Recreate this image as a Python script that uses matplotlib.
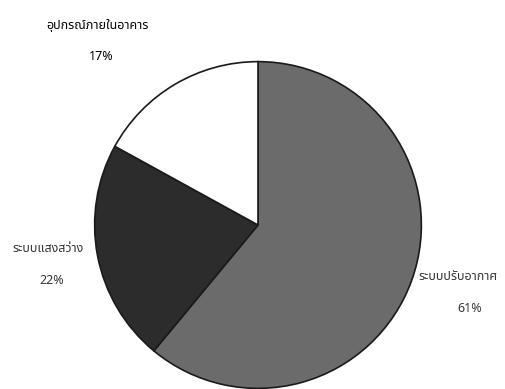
import matplotlib.pyplot as plt

# ข้อมูลสัดส่วนการใช้พลังงาน
labels = ['ระบบปรับอากาศ', 'ระบบแสงสว่าง', 'อุปกรณ์ภายในอาคาร']
percents = [61, 22, 17]
colors = ['#6b6b6b', '#2c2c2c', '#ffffff']

plt.rcParams['font.family'] = ['Noto Sans Thai', 'Noto Sans', 'DejaVu Sans']

fig = plt.figure(figsize=(5.06, 3.89), dpi=100)
W, H = 506, 389
cx, cy, r = 258, 225, 165
ax = fig.add_axes([(cx - r) / W, (H - cy - r) / H, 2 * r / W, 2 * r / H])
ax.pie(percents, colors=colors, startangle=90, counterclock=False,
       wedgeprops=dict(edgecolor='#1a1a1a', linewidth=1.2))
ax.set_xlim(-1.01, 1.01)
ax.set_ylim(-1.01, 1.01)
ax.set_aspect('equal')
ax.axis('off')

# ป้ายกำกับ (ตำแหน่งพิกเซลจากภาพต้นฉบับ)
def put(x, y, s, ha='center', **kw):
    fig.text(x / W, 1 - y / H, s, ha=ha, va='center', fontsize=9, **kw)

put(97, 25, labels[2], fontweight='bold')
put(101, 57, f'{percents[2]}%', fontweight='bold')
put(48, 248, labels[1], color='#333333', fontweight='medium')
put(52, 280, f'{percents[1]}%', color='#333333', fontweight='medium')
put(418, 277, labels[0], ha='left', color='#333333', fontweight='medium')
put(470, 308, f'{percents[0]}%', color='#333333', fontweight='medium')

fig.savefig('out.png', dpi=100)
